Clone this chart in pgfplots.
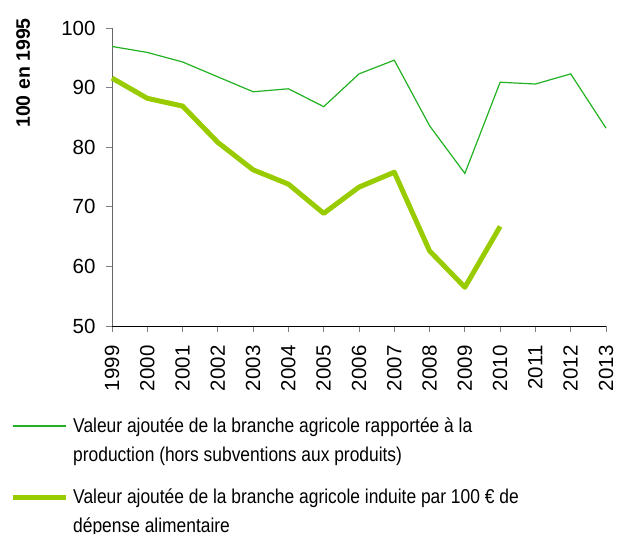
\documentclass[border=0pt]{standalone}
\usepackage{pgfplots}
\pgfplotsset{compat=1.18}
\usepackage{fontspec}
\setmainfont{Liberation Sans}
\newfontfamily\legfont[FakeStretch=0.87]{Liberation Sans}
\definecolor{thinc}{RGB}{34,177,34}
\definecolor{thickc}{RGB}{153,204,0}
\begin{document}
\begin{tikzpicture}
\useasboundingbox (0,0) rectangle (631pt,534pt);
\begin{axis}[
  at={(112pt,208pt)}, anchor=south west,
  scale only axis, width=494pt, height=298pt,
  xmin=1999, xmax=2013, ymin=50, ymax=100,
  xtick={1999,...,2013}, ytick={50,60,...,100},
  axis x line=bottom, axis y line=left, axis line style={-},
  x axis line style={black, line width=0.8pt},
  y axis line style={gray!80!black, line width=0.8pt},
  tick align=outside, major tick length=6pt,
  tick style={gray, line width=0.8pt},
  /pgf/number format/assume math mode=true,
  tick label style={font=\fontsize{20.5}{24}\selectfont},
  x tick label style={rotate=90, anchor=east, /pgf/number format/1000 sep={}},
  xticklabel shift=10pt,
  yticklabel shift=7pt,
  ylabel={\bfseries 100 en 1995},
  ylabel style={at={(axis description cs:-0.180,0.849)}, anchor=center, font=\fontsize{19.5}{22}\selectfont},
  clip=false,
  legend style={at={(axis description cs:-0.2065,-0.299)}, anchor=north west, draw=none, fill=none,
    inner sep=0pt, row sep=51pt, column sep=3pt,
    font=\legfont\fontsize{20}{29}\selectfont, cells={anchor=base west}},
  legend image code/.code={\draw[#1] (0pt,6pt) -- (53pt,6pt);},
]
\addplot[thinc, line width=1.2pt, mark=none] coordinates {
(1999,96.9) (2000,95.9) (2001,94.3) (2002,91.8) (2003,89.3) (2004,89.8) (2005,86.8)
(2006,92.3) (2007,94.6) (2008,83.6) (2009,75.6) (2010,90.9) (2011,90.6) (2012,92.3) (2013,83.2)};
\addlegendentry{\parbox[t]{600pt}{Valeur ajoutée de la branche agricole rapportée à la\\production (hors subventions aux produits)}}
\addplot[thickc, line width=5pt, line join=round, mark=none] coordinates {
(1999,91.6) (2000,88.2) (2001,86.9) (2002,80.8) (2003,76.2) (2004,73.8) (2005,68.9)
(2006,73.3) (2007,75.8) (2008,62.6) (2009,56.5) (2010,66.7)};
\addlegendentry{\parbox[t]{600pt}{Valeur ajoutée de la branche agricole induite par 100 € de\\dépense alimentaire}}
\end{axis}
\end{tikzpicture}
\end{document}
